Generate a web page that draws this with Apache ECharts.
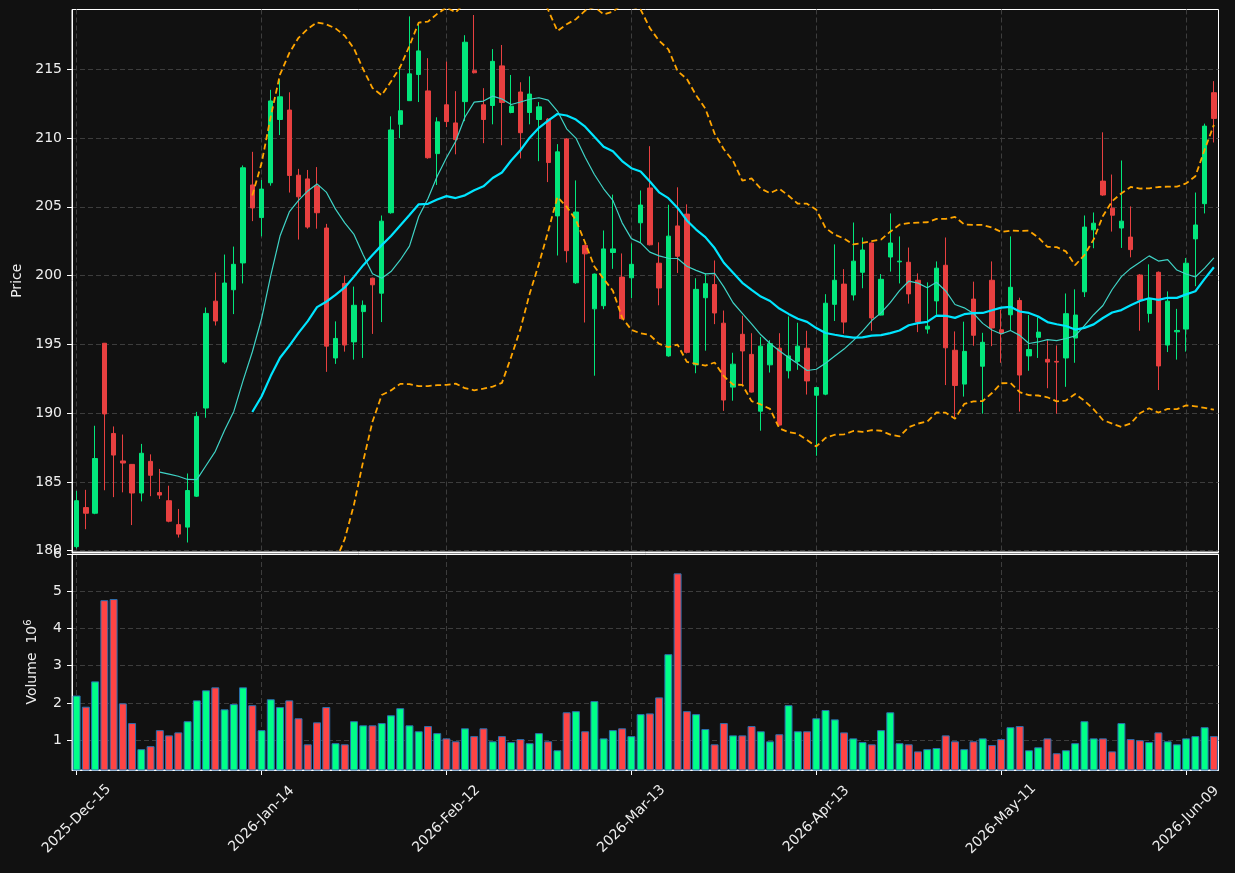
<!DOCTYPE html>
<html>
<head>
<meta charset="utf-8">
<script src="https://cdn.jsdelivr.net/npm/echarts@6/dist/echarts.min.js"></script>
<style>
  html, body { margin: 0; padding: 0; background: #111111; }
  #chart { width: 1235px; height: 873px; }
</style>
</head>
<body>
<div id="chart"></div>
<script>
// trading days, by month
const monthDays = [
  ['2025-Dec', [15, 16, 17, 18, 19, 22, 23, 24, 26, 29, 30, 31]],
  ['2026-Jan', [2, 5, 6, 7, 8, 9, 12, 13, 14, 15, 16, 20, 21, 22, 23, 26, 27, 28, 29, 30]],
  ['2026-Feb', [2, 3, 4, 5, 6, 9, 10, 11, 12, 13, 17, 18, 19, 20, 23, 24, 25, 26, 27]],
  ['2026-Mar', [2, 3, 4, 5, 6, 9, 10, 11, 12, 13, 16, 17, 18, 19, 20, 23, 24, 25, 26, 27, 30, 31]],
  ['2026-Apr', [1, 2, 6, 7, 8, 9, 10, 13, 14, 15, 16, 17, 20, 21, 22, 23, 24, 27, 28, 29, 30]],
  ['2026-May', [1, 4, 5, 6, 7, 8, 11, 12, 13, 14, 15, 18, 19, 20, 21, 22, 26, 27, 28, 29]],
  ['2026-Jun', [1, 2, 3, 4, 5, 8, 9, 10, 11, 12]]
];

const opens = [
  180.29, 183.13, 182.72, 195.08, 188.52, 186.52, 186.27, 184.19, 186.49, 184.22,
  183.63, 181.89, 181.71, 183.96, 190.37, 198.14, 193.71, 198.97, 200.92, 206.59,
  204.22, 206.75, 211.35, 212.04, 207.30, 207.03, 206.52, 203.46, 194.01, 199.43,
  195.18, 197.38, 199.81, 198.72, 204.57, 211.00, 212.72, 214.62, 213.43, 208.87,
  212.42, 211.10, 212.65, 214.90, 212.42, 212.37, 215.25, 211.86, 213.35, 211.86,
  211.35, 211.38, 204.34, 209.94, 199.48, 202.19, 197.58, 197.81, 201.68, 199.89,
  199.84, 203.84, 206.37, 200.90, 194.16, 203.61, 204.47, 193.51, 198.39, 199.35,
  196.54, 191.89, 195.73, 194.27, 190.14, 193.51, 194.72, 193.08, 193.76, 194.72,
  191.30, 191.38, 197.91, 199.38, 198.59, 200.24, 202.37, 197.13, 201.35, 201.00,
  200.97, 199.66, 196.11, 198.16, 200.75, 194.57, 192.11, 198.29, 193.41, 199.66,
  196.06, 197.15, 198.19, 194.16, 195.51, 193.91, 193.76, 194.01, 195.46, 198.82,
  203.33, 206.87, 204.90, 203.46, 202.80, 200.04, 197.25, 200.24, 194.95, 195.91,
  196.11, 202.67, 205.23, 213.30
];
const closes = [
  183.63, 182.72, 186.70, 189.94, 186.95, 186.37, 184.19, 187.08, 185.48, 184.04,
  182.14, 181.20, 184.37, 189.76, 197.25, 196.70, 199.46, 200.82, 207.84, 204.92,
  206.29, 212.70, 213.00, 207.28, 205.73, 203.53, 204.57, 194.87, 195.43, 194.95,
  197.84, 197.84, 199.33, 203.96, 210.59, 211.99, 214.67, 216.34, 208.57, 211.18,
  211.20, 209.89, 216.97, 214.75, 211.35, 215.58, 212.59, 212.32, 210.39, 213.20,
  212.27, 208.22, 209.00, 201.81, 204.62, 201.58, 200.11, 201.94, 201.94, 196.87,
  200.82, 205.13, 202.24, 199.10, 202.87, 201.41, 194.42, 199.00, 199.41, 197.28,
  190.95, 193.56, 194.52, 191.53, 194.87, 195.05, 189.13, 194.16, 194.87, 192.34,
  191.86, 197.99, 199.66, 196.62, 201.05, 201.86, 196.92, 199.73, 202.37, 201.05,
  198.67, 196.62, 196.32, 200.54, 194.75, 192.01, 194.49, 195.66, 195.15, 196.19,
  195.81, 199.15, 192.77, 194.62, 195.89, 193.71, 193.71, 197.23, 197.13, 203.53,
  203.81, 205.86, 204.39, 203.96, 201.89, 198.22, 198.32, 193.43, 198.14, 196.01,
  200.90, 203.68, 210.87, 211.43
];
const lows = [
  180.16, 181.56, 182.65, 184.39, 183.89, 184.24, 181.86, 183.58, 183.96, 183.76,
  182.06, 180.95, 180.59, 183.90, 189.66, 196.37, 193.58, 197.20, 199.43, 203.96,
  202.85, 206.54, 210.22, 206.04, 202.62, 203.41, 203.41, 193.00, 193.58, 194.47,
  193.89, 194.01, 195.76, 196.62, 204.50, 209.99, 212.70, 212.62, 208.50, 206.59,
  210.80, 208.82, 211.23, 214.70, 209.63, 211.00, 209.48, 211.80, 208.52, 211.00,
  208.32, 206.80, 201.46, 200.95, 199.40, 196.59, 192.72, 197.56, 200.49, 196.80,
  198.37, 202.39, 202.19, 197.84, 194.10, 200.19, 194.34, 192.90, 194.54, 196.47,
  190.16, 190.90, 192.11, 191.50, 188.72, 192.95, 189.10, 192.52, 193.15, 191.35,
  186.90, 191.30, 196.70, 195.78, 198.19, 199.08, 195.99, 197.10, 200.29, 199.43,
  197.96, 195.89, 195.78, 197.15, 192.04, 189.66, 191.20, 194.90, 189.96, 194.87,
  193.66, 195.99, 190.11, 193.08, 194.01, 191.81, 189.96, 191.91, 193.66, 198.44,
  201.99, 205.80, 203.20, 202.01, 201.33, 195.99, 196.59, 191.68, 194.44, 193.89,
  194.47, 199.23, 204.52, 209.68
];
const highs = [
  184.34, 184.42, 189.08, 195.10, 189.03, 188.44, 186.30, 187.76, 187.00, 185.94,
  184.72, 183.03, 185.61, 190.09, 197.68, 200.22, 201.53, 202.11, 208.01, 209.00,
  206.95, 213.51, 214.22, 213.33, 207.76, 207.68, 207.89, 203.76, 196.67, 199.99,
  199.20, 198.19, 199.85, 204.37, 211.58, 215.23, 218.85, 218.39, 215.81, 211.51,
  215.56, 213.41, 217.48, 218.95, 213.63, 216.47, 216.77, 214.59, 214.06, 214.49,
  212.62, 211.45, 209.56, 210.00, 206.92, 202.25, 200.15, 203.28, 205.89, 201.61,
  202.34, 206.19, 209.41, 202.42, 205.15, 206.42, 205.18, 199.81, 200.16, 201.10,
  197.46, 194.39, 197.08, 195.81, 195.53, 195.30, 195.81, 197.03, 196.57, 195.99,
  191.90, 198.65, 202.27, 200.47, 203.86, 202.77, 202.40, 200.11, 204.52, 202.85,
  202.04, 200.16, 199.51, 201.03, 202.77, 195.94, 196.65, 199.56, 195.84, 201.03,
  197.53, 202.85, 198.39, 197.13, 196.97, 195.30, 194.92, 198.70, 199.00, 204.37,
  204.59, 210.42, 207.35, 208.37, 205.03, 200.10, 200.82, 200.30, 198.85, 197.58,
  201.28, 206.04, 211.05, 214.14
];
// volume in millions
const volumes = [
  2.20, 1.90, 2.58, 4.76, 4.79, 1.99, 1.46, 0.76, 0.84, 1.27,
  1.13, 1.21, 1.51, 2.07, 2.34, 2.42, 1.83, 1.97, 2.42, 1.94,
  1.27, 2.10, 1.89, 2.07, 1.59, 0.89, 1.48, 1.89, 0.92, 0.89,
  1.51, 1.40, 1.40, 1.46, 1.67, 1.86, 1.40, 1.24, 1.38, 1.19,
  1.05, 0.97, 1.32, 1.11, 1.32, 0.97, 1.11, 0.95, 1.03, 0.92,
  1.19, 0.97, 0.73, 1.75, 1.78, 1.24, 2.05, 1.05, 1.27, 1.32,
  1.11, 1.70, 1.72, 2.15, 3.31, 5.48, 1.78, 1.70, 1.30, 0.89,
  1.46, 1.13, 1.13, 1.38, 1.24, 0.97, 1.16, 1.94, 1.24, 1.24,
  1.59, 1.81, 1.56, 1.21, 1.05, 0.95, 0.89, 1.27, 1.75, 0.92,
  0.89, 0.70, 0.76, 0.79, 1.13, 0.97, 0.76, 0.97, 1.05, 0.87,
  1.03, 1.35, 1.38, 0.73, 0.81, 1.05, 0.65, 0.73, 0.92, 1.51,
  1.05, 1.05, 0.70, 1.46, 1.03, 1.00, 0.95, 1.21, 0.97, 0.89,
  1.05, 1.11, 1.35, 1.11
];

const priceTicks = [180, 185, 190, 195, 200, 205, 210, 215];
const volumeTicks = [1, 2, 3, 4, 5, 6];

const upColor = '#02e77c';
const downColor = '#e84040';
const volUp = '#00ff88';
const volDown = '#ff4444';
const gridLine = { show: true, lineStyle: { color: '#3d3d3d', type: [5, 3], width: 1 } };
const whiteLine = { show: true, lineStyle: { color: '#ffffff', width: 1 } };
const font = 'DejaVu Sans';

const dates = [];
monthDays.forEach(([m, days]) => {
  days.forEach(d => dates.push(m + '-' + String(d).padStart(2, '0')));
});

function sma(values, n) {
  return values.map((v, i) => {
    if (i < n - 1) return null;
    let s = 0;
    for (let j = i - n + 1; j <= i; j++) s += values[j];
    return s / n;
  });
}

// mean +/- k * population std
function bollinger(values, n, k) {
  const mid = sma(values, n);
  return values.map((v, i) => {
    if (mid[i] == null) return null;
    let ss = 0;
    for (let j = i - n + 1; j <= i; j++) ss += (values[j] - mid[i]) ** 2;
    return mid[i] + k * Math.sqrt(ss / n);
  });
}

const candles = opens.map((o, i) => [o, closes[i], lows[i], highs[i]]);
const volumeBars = volumes.map((v, i) => ({
  value: v,
  itemStyle: { color: closes[i] >= opens[i] ? volUp : volDown }
}));

const chart = echarts.init(document.getElementById('chart'));

chart.setOption({
  backgroundColor: '#111111',
  animation: false,
  textStyle: { fontFamily: font },
  grid: [
    { left: 72, right: 16.5, top: 9.5, height: 542.5, show: true, borderColor: '#ffffff', borderWidth: 1, backgroundColor: 'transparent' },
    { left: 72, right: 16.5, top: 554, height: 216, show: true, borderColor: '#ffffff', borderWidth: 1, backgroundColor: 'transparent' }
  ],
  xAxis: [
    {
      type: 'category', gridIndex: 0, data: dates, boundaryGap: true,
      axisLine: whiteLine, axisTick: { show: false }, axisLabel: { show: false },
      splitLine: Object.assign({ interval: 19, alignWithLabel: true }, gridLine)
    },
    {
      type: 'category', gridIndex: 1, data: dates, boundaryGap: true,
      axisLine: whiteLine,
      axisTick: { show: true, interval: 19, alignWithLabel: true, length: 5, lineStyle: { color: '#ffffff' } },
      axisLabel: {
        interval: 19, rotate: 45, align: 'center', verticalAlign: 'middle', margin: 49,
        color: '#eeeeee', fontSize: 14, fontFamily: font
      },
      splitLine: Object.assign({ interval: 19, alignWithLabel: true }, gridLine)
    },
    {
      type: 'category', gridIndex: 1, data: dates, position: 'top', boundaryGap: true,
      axisLine: whiteLine, axisTick: { show: false }, axisLabel: { show: false }, splitLine: { show: false }
    }
  ],
  yAxis: [
    {
      type: 'value', gridIndex: 0, min: 179.9, max: 219.35,
      name: 'Price', nameLocation: 'middle', nameGap: 47,
      nameTextStyle: { color: '#eeeeee', fontSize: 14, fontFamily: font },
      axisLine: whiteLine,
      axisTick: { show: true, length: 5, customValues: priceTicks, lineStyle: { color: '#ffffff' } },
      axisLabel: { customValues: priceTicks, color: '#eeeeee', fontSize: 14, fontFamily: font, margin: 10 },
      splitLine: gridLine
    },
    {
      type: 'value', gridIndex: 1, min: 0.2, max: 6.0,
      name: '{a|Volume  10}{b|6}', nameLocation: 'middle', nameGap: 30,
      nameTextStyle: {
        color: '#eeeeee', fontFamily: font,
        rich: {
          a: { fontSize: 14, color: '#eeeeee', fontFamily: font },
          b: { fontSize: 10, color: '#eeeeee', fontFamily: font, padding: [0, 0, 9, 0] }
        }
      },
      axisLine: whiteLine,
      axisTick: { show: true, length: 5, customValues: volumeTicks, lineStyle: { color: '#ffffff' } },
      axisLabel: { customValues: volumeTicks, color: '#eeeeee', fontSize: 14, fontFamily: font, margin: 10 },
      splitLine: gridLine
    }
  ],
  series: [
    {
      name: 'Price', type: 'candlestick', xAxisIndex: 0, yAxisIndex: 0,
      data: candles, barWidth: '52%',
      itemStyle: { color: upColor, color0: downColor, borderColor: upColor, borderColor0: downColor, borderWidth: 1 }
    },
    {
      name: 'MA10', type: 'line', xAxisIndex: 0, yAxisIndex: 0, data: sma(closes, 10),
      symbol: 'none', z: 4, lineStyle: { color: '#3fd3c6', width: 1.2 }
    },
    {
      name: 'MA20', type: 'line', xAxisIndex: 0, yAxisIndex: 0, data: sma(closes, 20),
      symbol: 'none', z: 4, lineStyle: { color: '#00e5ff', width: 2.2 }
    },
    {
      name: 'Upper', type: 'line', xAxisIndex: 0, yAxisIndex: 0, data: bollinger(closes, 20, 2),
      symbol: 'none', z: 4, lineStyle: { color: '#ffa500', width: 1.8, type: [6, 3.5] }
    },
    {
      name: 'Lower', type: 'line', xAxisIndex: 0, yAxisIndex: 0, data: bollinger(closes, 20, -2),
      symbol: 'none', z: 4, lineStyle: { color: '#ffa500', width: 1.8, type: [6, 3.5] }
    },
    {
      name: 'Volume', type: 'bar', xAxisIndex: 1, yAxisIndex: 1, data: volumeBars,
      barWidth: '86%', itemStyle: { borderColor: '#2a6fb0', borderWidth: 1 }
    }
  ]
});
</script>
</body>
</html>
